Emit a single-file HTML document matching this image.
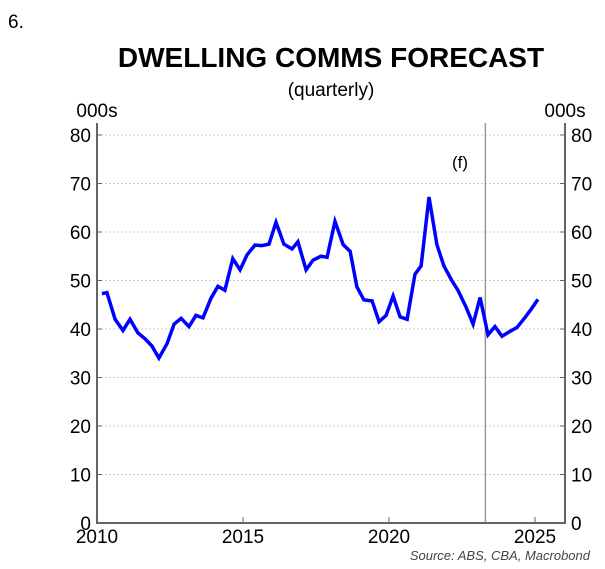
<!DOCTYPE html>
<html><head><meta charset="utf-8"><style>
body{margin:0;background:#fff;}
svg{display:block;font-family:"Liberation Sans",Arial,sans-serif;}
</style></head><body>
<svg id="chart" width="605" height="569">
<text x="8" y="28" font-size="19">6.</text>
<text x="331" y="67" font-size="28" font-weight="bold" text-anchor="middle">DWELLING COMMS FORECAST</text>
<text x="331" y="96" font-size="19" text-anchor="middle">(quarterly)</text>
<text x="97" y="117" font-size="19" text-anchor="middle">000s</text>
<text x="565" y="117" font-size="19" text-anchor="middle">000s</text>
<text x="460" y="168" font-size="17" text-anchor="middle">(f)</text>
<text x="590" y="560" font-size="13" font-style="italic" fill="#444" text-anchor="end">Source: ABS, CBA, Macrobond</text>
<g id="grid"></g><g id="axes"></g><g id="series"></g>
</svg>
<script>
const years=[2010.17,2010.34,2010.62,2010.89,2011.13,2011.4,2011.64,2011.88,2012.12,2012.4,2012.64,2012.88,2013.15,2013.39,2013.63,2013.9,2014.14,2014.38,2014.65,2014.9,2015.14,2015.41,2015.65,2015.89,2016.13,2016.4,2016.68,2016.88,2017.16,2017.4,2017.67,2017.88,2018.15,2018.43,2018.67,2018.9,2019.14,2019.42,2019.66,2019.9,2020.14,2020.38,2020.62,2020.89,2021.1,2021.37,2021.64,2021.88,2022.15,2022.36,2022.64,2022.88,2023.12,2023.39,2023.63,2023.87,2024.14,2024.38,2024.65,2024.86,2025.1];
const values=[47.3,47.5,42,39.7,42,39.2,38,36.5,34,37,41,42.2,40.5,42.8,42.3,46.3,48.8,48,54.5,52.2,55.3,57.3,57.2,57.5,62,57.5,56.5,58,52.2,54.2,55,54.8,62.2,57.4,56,48.7,46,45.8,41.5,42.8,46.8,42.5,42,51.3,53,67.2,57.4,53,50,48,44.5,41,46.5,38.8,40.5,38.5,39.5,40.3,42.3,44,46.1];
const yTicks=[0,10,20,30,40,50,60,70,80];
const xTicks=[2010,2015,2020,2025];
const forecastStart=2023.3;
const X0=97,X1=565,Y0=523,Y1=135;
const xs=y=>X0+(y-2010)*(535-97)/15;
const ys=v=>Y0-(v/80)*(Y0-Y1);
const NS="http://www.w3.org/2000/svg";
function mk(t,a,p){const e=document.createElementNS(NS,t);for(const k in a)e.setAttribute(k,a[k]);p.appendChild(e);return e;}
const grid=document.getElementById('grid'),axes=document.getElementById('axes'),ser=document.getElementById('series');
yTicks.forEach(v=>{
  if(v>0){const g=mk('line',{x1:X0,x2:X1,y1:ys(v),y2:ys(v),stroke:'#ccc','stroke-dasharray':'2,2'},grid);
  }
  const l=mk('text',{x:X0-6,y:ys(v)+7,'font-size':19,'text-anchor':'end'},axes);l.textContent=v;
  
  const r=mk('text',{x:X1+6,y:ys(v)+7,'font-size':19},axes);r.textContent=v;
  
  mk('line',{x1:X0,x2:X0+5,y1:ys(v),y2:ys(v),stroke:'#666'},axes);
  mk('line',{x1:X1-5,x2:X1,y1:ys(v),y2:ys(v),stroke:'#666'},axes);
});
xTicks.forEach(t=>{
  mk('line',{x1:xs(t),x2:xs(t),y1:Y0-6,y2:Y0,stroke:'#666'},axes);
  const l=mk('text',{x:xs(t),y:Y0+20,'font-size':19,'text-anchor':'middle'},axes);l.textContent=t;
  
});
const fl=mk('line',{x1:xs(forecastStart),x2:xs(forecastStart),y1:Y1-12,y2:Y0,stroke:'#999','stroke-width':1.5},axes);

const ax=mk('path',{d:`M${X0},${Y1-12}V${Y0}H${X1}V${Y1-12}`,fill:'none',stroke:'#666','stroke-width':2},axes);

const line=mk('polyline',{points:years.map((y,i)=>xs(y)+','+ys(values[i])).join(' '),fill:'none',stroke:'#0000ff','stroke-width':3.5,'stroke-linejoin':'miter'},ser);


</script>
</body></html>
